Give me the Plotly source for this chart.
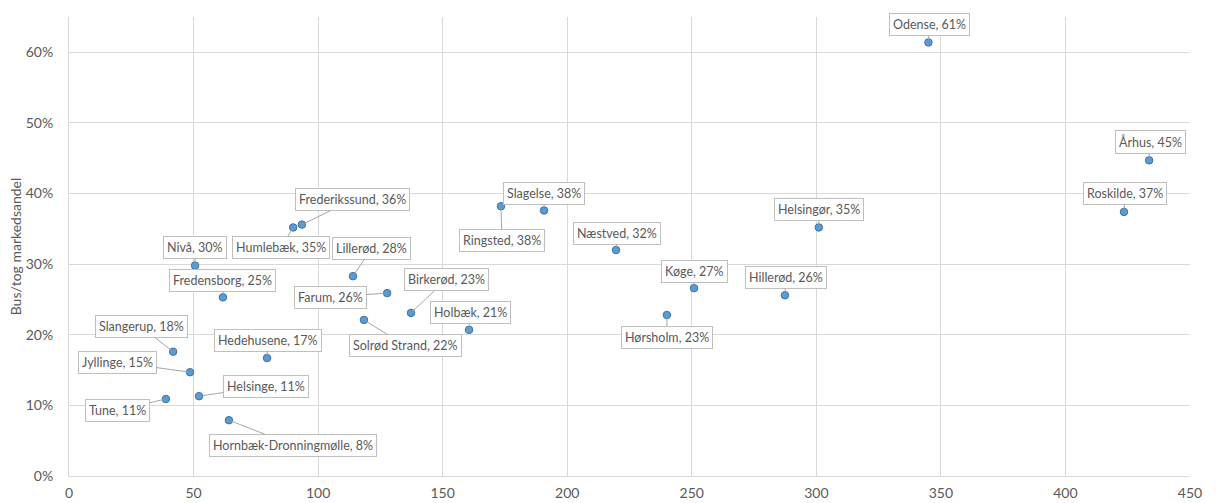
import plotly.graph_objects as go

# Cities: passenger count (x) and bus/train market share (y)
cities = ["Odense", "Århus", "Roskilde", "Helsingør", "Næstved", "Køge", "Hillerød",
          "Hørsholm", "Slagelse", "Ringsted", "Frederikssund", "Humlebæk", "Lillerød",
          "Farum", "Birkerød", "Solrød Strand", "Holbæk", "Nivå", "Fredensborg",
          "Slangerup", "Hedehusene", "Jyllinge", "Helsinge", "Tune", "Hornbæk-Dronningmølle"]
x_vals = [345, 433.6, 423.5, 301, 219.6, 250.9, 287.4,
          240, 190.7, 173.4, 93.5, 90, 114,
          127.7, 137.3, 118.4, 160.6, 50.6, 61.8,
          41.8, 79.5, 48.6, 52.2, 38.9, 64.2]
y_vals = [0.614, 0.447, 0.374, 0.352, 0.320, 0.266, 0.256,
          0.228, 0.376, 0.382, 0.356, 0.352, 0.283,
          0.259, 0.231, 0.221, 0.207, 0.298, 0.253,
          0.176, 0.167, 0.147, 0.113, 0.109, 0.079]
# label offsets (pixels) of each data label box relative to its point
label_dx = [1, 1, 1, 0, 1, 0, 1,
            0, 0, 1, 51, -12, 19,
            -57, 35, 42, 1, 0, 0,
            -32, 1, -73, 67, -48, 64]
label_dy = [-18, -18, -18, -18, -17, -17, -18,
            22, -17, 34, -25, 20, -28,
            4, -33, 26, -17, -18, -17,
            -25, -18, -10, -10, 11, 25]

font_family = "Lato, 'Open Sans', sans-serif"
grey_text = "#595959"
grid = "#d9d9d9"

fig = go.Figure()
fig.add_trace(go.Scatter(
    x=x_vals, y=y_vals, mode="markers",
    marker=dict(size=7.5, color="#5b9bd5", line=dict(color="#41719c", width=1)),
    hoverinfo="skip", showlegend=False,
))

for name, xv, yv, dx, dy in zip(cities, x_vals, y_vals, label_dx, label_dy):
    fig.add_annotation(
        x=xv, y=yv, text=f"{name}, {round(yv * 100):.0f}%",
        ax=dx, ay=dy, showarrow=True, arrowhead=0, arrowwidth=1,
        arrowcolor="#a6a6a6", standoff=3,
        bordercolor="#bfbfbf", borderwidth=1, borderpad=3, bgcolor="white",
        font=dict(family=font_family, size=12.5, color=grey_text),
    )

fig.update_layout(
    width=1216, height=503,
    margin=dict(l=69, r=26, t=17, b=27, autoexpand=False),
    paper_bgcolor="white", plot_bgcolor="white",
    font=dict(family=font_family, color=grey_text),
    xaxis=dict(range=[0, 450], dtick=50, showgrid=True, gridcolor=grid, gridwidth=1,
               showline=True, linecolor=grid, mirror=False, zeroline=False,
               automargin=False,
               tickfont=dict(size=14, color=grey_text), ticks="", ticklabelstandoff=4),
    yaxis=dict(range=[0, 0.65], dtick=0.1, tickformat=".0%", showgrid=True,
               gridcolor=grid, gridwidth=1, showline=True, linecolor=grid,
               zeroline=False, automargin=False,
               tickfont=dict(size=14, color=grey_text), ticks="",
               ticklabelstandoff=12,
               title=dict(text="Bus/tog markedsandel", font=dict(size=14, color=grey_text),
                          standoff=0)),
)

fig.write_html("out.html")
